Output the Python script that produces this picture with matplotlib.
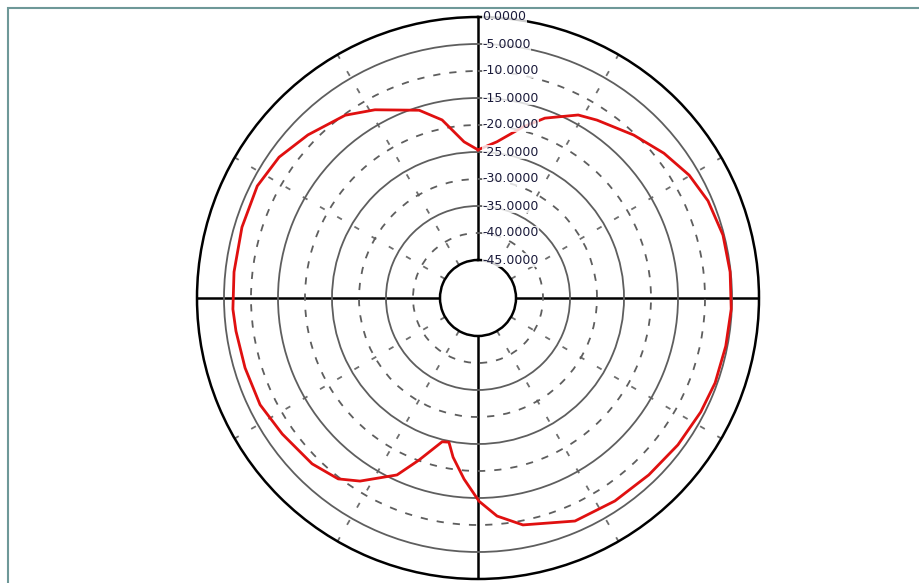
import numpy as np
import matplotlib
matplotlib.use("Agg")
import matplotlib.pyplot as plt
from matplotlib.patches import Rectangle

# ---- data ----
angle_deg = [0.0, 6.9, 14.7, 20.4, 28.7, 33.8, 43.7, 52.1, 59.8, 67.1, 75.6, 84.1,
             92.5, 101.0, 109.7, 117.1, 126.3, 136.0, 146.0, 156.5, 168.8, 175.0,
             179.7, 184.4, 188.9, 191.4, 194.0, 200.0, 204.6, 212.8, 217.7, 225.0,
             235.2, 243.9, 253.3, 262.2, 267.4, 276.1, 286.7, 296.9, 305.3, 313.8,
             324.0, 331.3, 342.6, 348.6, 354.9]
gain_db = [-24.6, -22.9, -19.3, -16.5, -13.4, -12.4, -10.3, -8.4, -6.8, -5.8, -5.2, -5.1,
           -5.1, -5.3, -5.4, -5.7, -6.1, -6.5, -6.7, -7.0, -9.2, -11.5,
           -14.4, -18.4, -22.2, -24.8, -24.6, -20.1, -16.0, -11.7, -9.7, -8.6,
           -7.9, -7.1, -7.0, -6.8, -6.6, -6.6, -6.4, -6.2, -6.9, -8.4,
           -10.2, -12.3, -15.6, -18.4, -23.0]
ring_values = [0, -5, -10, -15, -20, -25, -30, -35, -40, -45]
ring_labels = ["0.0000", "-5.0000", "-10.0000", "-15.0000", "-20.0000",
               "-25.0000", "-30.0000", "-35.0000", "-40.0000", "-45.0000"]
spoke_deg = [0, 30, 60, 90, 120, 150, 180, 210, 240, 270, 300, 330]

W, H = 919, 583
fig = plt.figure(figsize=(W / 100, H / 100), dpi=100)
fig.patch.set_facecolor("white")

# frame around the chart
fig.add_artist(Rectangle((8 / W, -0.01), (W - 8) / W + 0.01, (H - 8) / H + 0.01,
                         transform=fig.transFigure, fill=False,
                         edgecolor="#6e9898", linewidth=1.5))

cx, cy, R = 478, 298, 281
ax = fig.add_axes([(cx - R) / W, (H - cy - R) / H, 2 * R / W, 2 * R / H],
                  projection="polar")
ax.set_theta_zero_location("N")
ax.set_theta_direction(-1)
ax.set_rlim(-45, 0)
ax.set_rorigin(-45 - 38 / (243 / 45))

# ring gridlines
ax.set_yticks(ring_values[1:-1])
ax.set_yticklabels([])
ax.set_xticks(np.deg2rad(spoke_deg))
ax.set_xticklabels([])
ax.grid(True)
for v, gl in zip(ring_values[1:-1], ax.yaxis.get_gridlines()):
    gl.set_color("#5e5e5e")
    gl.set_linewidth(1.3)
    if v % 10 == 0:
        gl.set_linestyle((0, (4, 5)))
    else:
        gl.set_linestyle("-")
for d, gl in zip(spoke_deg, ax.xaxis.get_gridlines()):
    if d % 90 == 0:
        gl.set_linestyle("-")
        gl.set_color("black")
        gl.set_linewidth(1.8)
        gl.set_zorder(3)
    else:
        gl.set_linestyle((0, (3, 8)))
        gl.set_color("#6e6e6e")
        gl.set_linewidth(1.3)

ax.spines["polar"].set_color("black")
ax.spines["polar"].set_linewidth(1.8)
ax.spines["inner"].set_color("black")
ax.spines["inner"].set_linewidth(1.8)

# pattern curve
th = np.deg2rad(np.append(angle_deg, angle_deg[0]))
gv = np.append(gain_db, gain_db[0])
ax.plot(th, gv, color="#e01010", linewidth=2.0, zorder=4)

# radial labels
for v, lbl in zip(ring_values, ring_labels):
    ax.annotate(lbl, xy=(0, v), xytext=(3, 0), textcoords="offset points",
                ha="left", va="center", fontsize=9, color="#1a1a3a",
                annotation_clip=False, zorder=5,
                bbox=dict(boxstyle="square,pad=0.05", fc="white", ec="none", alpha=0.8))

fig.savefig("out.png", dpi=100)
